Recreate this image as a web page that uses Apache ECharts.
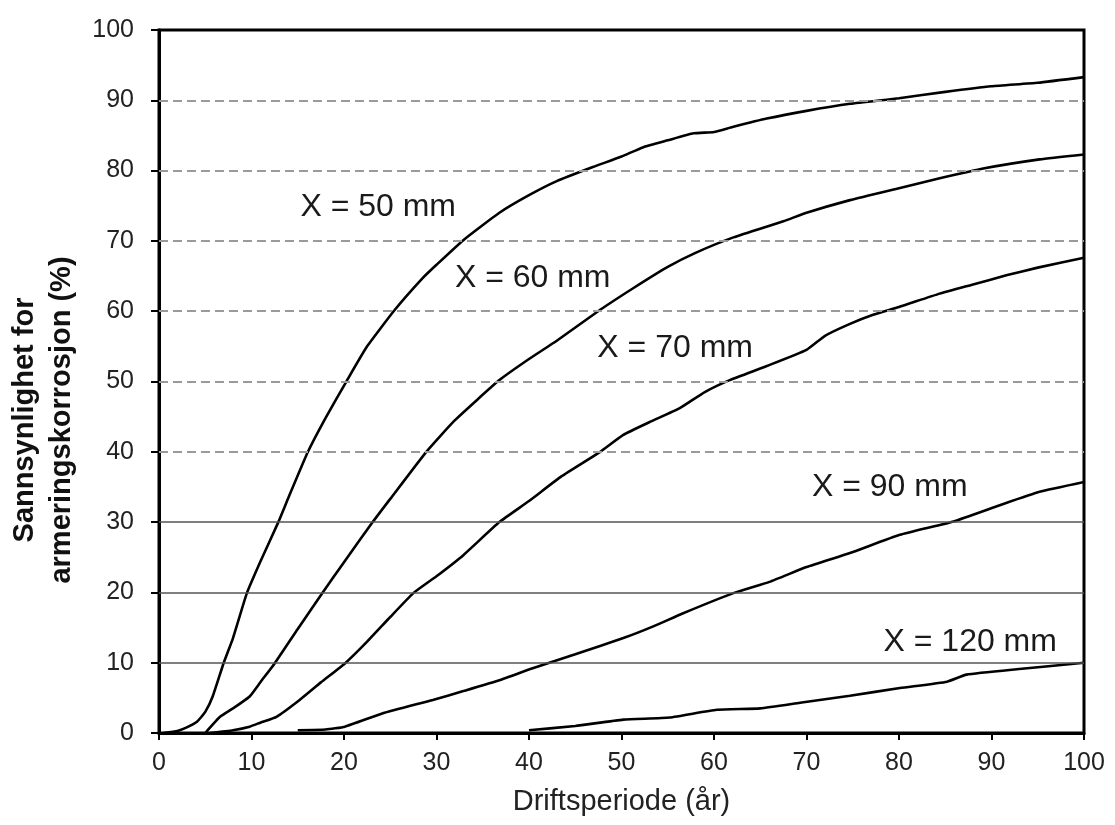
<!DOCTYPE html>
<html>
<head>
<meta charset="utf-8">
<script src="https://cdn.jsdelivr.net/npm/echarts@6/dist/echarts.min.js"></script>
<style>
  html, body { margin: 0; padding: 0; background: #fff; }
  #chart { width: 1115px; height: 825px; }
</style>
</head>
<body>
<div id="chart"></div>
<script>
// Probability of reinforcement corrosion vs. service life, for several cover depths X
const coverLabels = ['X = 50 mm', 'X = 60 mm', 'X = 70 mm', 'X = 90 mm', 'X = 120 mm'];

// [years, probability %]
const cover50 = [[0.5,0],[2,0.3],[3,0.8],[4.1,1.6],[5,3],[5.8,5.2],[7,10],[8,13.5],[9.5,19.9],[11,24.5],[12.9,30],[14,33.5],[16.1,40],[18,44.8],[20.3,50.1],[22.5,55],[25.5,60.2],[28.5,64.7],[30,66.6],[32.9,70.1],[36.8,74],[40,76.5],[43,78.5],[46.9,80.5],[50,82],[52.3,83.3],[55,84.3],[57.8,85.3],[60,85.5],[62,86.2],[65.7,87.4],[70,88.5],[74.7,89.5],[80,90.3],[85,91.2],[90,92],[95,92.5],[100,93.3]];
const cover60 = [[5,0],[6.6,2.3],[8,3.5],[9.8,5.2],[11,7.3],[12.5,9.9],[15,14.8],[17.7,20],[20,24.3],[23.1,30],[25,33.3],[28.9,40],[32,44.5],[36.8,50.2],[40,53.2],[43,55.8],[47.7,60.2],[51.3,63.3],[55,66.3],[58,68.3],[62.1,70.5],[67.5,72.8],[70,74],[74.7,75.8],[80,77.5],[84.4,78.9],[89.1,80.3],[95.2,81.6],[100,82.3]];
const cover70 = [[5.5,0],[8,0.4],[9.8,0.9],[11,1.5],[12.7,2.3],[15.2,4.7],[17.5,7.2],[20.1,9.9],[22.5,13],[25,16.5],[27.5,19.9],[30,22.3],[32.9,25.3],[36.8,30],[40,33],[43.5,36.5],[47.7,40],[50.2,42.4],[53,44.2],[56.3,46.2],[59,48.5],[61.7,50.2],[65.7,52.2],[70,54.5],[72,56.5],[74.7,58.2],[77.2,59.5],[80,60.6],[84.4,62.5],[88,63.8],[91.6,65.1],[95,66.2],[100,67.6]];
const cover90 = [[15,0.4],[18,0.5],[20.1,0.9],[24.2,2.8],[29.6,4.7],[33,6],[36.8,7.5],[40.4,9.2],[45,11.2],[50.2,13.5],[53.5,15.2],[56.6,17],[62.1,19.9],[66,21.5],[70,23.6],[74.7,25.6],[80.1,28.2],[85.9,30.1],[90.9,32.4],[95.2,34.3],[100,35.7]];
const cover120 = [[40,0.4],[45,1],[50.2,1.9],[55.2,2.2],[60.3,3.3],[65,3.5],[69.3,4.3],[74.7,5.3],[80.1,6.4],[85.2,7.3],[87.3,8.3],[93,9.1],[100,10]];

// Horizontal reference levels
const dashedLevels = [40, 50, 60, 70, 80, 90];
const solidLevels = [10, 20, 30];

const curves = [cover50, cover60, cover70, cover90, cover120];
// Where each curve's name is written, in data units
const labelAnchors = [[23.7, 74.8], [40.4, 64.7], [55.8, 54.8], [79.0, 35.0], [87.7, 12.9]];

const FONT = '"Liberation Sans", Arial, Helvetica, sans-serif';

const chart = echarts.init(document.getElementById('chart'));

const gridLineData = dashedLevels.map(v => ({
  yAxis: v,
  lineStyle: { type: [9, 5], color: '#9a9a9a', width: 2 }
})).concat(solidLevels.map(v => ({
  yAxis: v,
  lineStyle: { type: 'solid', color: '#555', width: 1.5 }
})));

const series = [{
  type: 'line',
  data: [],
  z: 1,
  silent: true,
  markLine: {
    silent: true,
    symbol: 'none',
    label: { show: false },
    animation: false,
    data: gridLineData
  }
}];

curves.forEach((pts, i) => {
  series.push({
    name: coverLabels[i],
    type: 'line',
    data: pts,
    z: 3,
    showSymbol: false,
    smooth: 0.15,
    lineStyle: { color: '#000', width: 2.6 },
    markPoint: {
      symbol: 'circle',
      symbolSize: 0,
      silent: true,
      animation: false,
      label: {
        show: true,
        position: 'inside',
        formatter: coverLabels[i],
        fontFamily: FONT,
        fontSize: 32,
        color: '#1a1a1a'
      },
      data: [{ coord: labelAnchors[i] }]
    }
  });
});

chart.setOption({
  animation: false,
  backgroundColor: '#fff',
  grid: {
    left: 159, right: 31, top: 30, bottom: 92,
    show: true,
    borderColor: '#000',
    borderWidth: 3,
    backgroundColor: 'transparent'
  },
  xAxis: {
    type: 'value',
    min: 0, max: 100, interval: 10,
    axisLine: { show: true, onZero: false, lineStyle: { color: '#000', width: 3 } },
    axisTick: { show: true, length: 7, lineStyle: { color: '#000', width: 2 } },
    splitLine: { show: false },
    axisLabel: { margin: 18, fontFamily: FONT, fontSize: 25, color: '#222' },
    name: 'Driftsperiode (år)',
    nameLocation: 'middle',
    nameGap: 54,
    nameTextStyle: { fontFamily: FONT, fontSize: 29, color: '#222' }
  },
  yAxis: {
    type: 'value',
    min: 0, max: 100, interval: 10,
    axisLine: { show: true, lineStyle: { color: '#000', width: 3 } },
    axisTick: { show: true, length: 8, lineStyle: { color: '#000', width: 2 } },
    splitLine: { show: false },
    axisLabel: { margin: 25, fontFamily: FONT, fontSize: 25, color: '#222' }
  },
  graphic: [{
    type: 'text',
    x: 43,
    y: 420,
    rotation: Math.PI / 2,
    style: {
      text: 'Sannsynlighet for\narmeringskorrosjon (%)',
      fontFamily: FONT,
      fontSize: 29,
      fontWeight: 'bold',
      lineHeight: 37,
      fill: '#111',
      align: 'center',
      verticalAlign: 'middle'
    }
  }],
  series: series
});
</script>
</body>
</html>
